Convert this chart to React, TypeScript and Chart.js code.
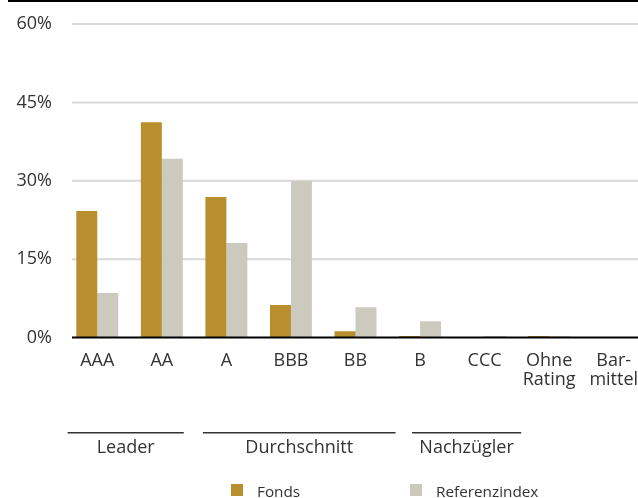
import React, { useEffect, useRef } from "react";
import { Chart, registerables } from "chart.js";

Chart.register(...registerables);

// ---- data ----
const categories: (string | string[])[] = [
  "AAA",
  "AA",
  "A",
  "BBB",
  "BB",
  "B",
  "CCC",
  ["Ohne", "Rating"],
  ["Bar-", "mittel"],
];
const seriesNames = ["Fonds", "Referenzindex"];
const fondsValues = [24.2, 41.2, 26.9, 6.2, 1.2, 0.3, 0, 0.3, 0];
const referenzValues = [8.5, 34.2, 18.1, 30.0, 5.8, 3.1, 0.3, 0.3, 0];
const yTickStep = 15;
const yMax = 60;
const groupLabels = ["Leader", "Durchschnitt", "Nachzügler"];
// group bracket spans, in category-index units
const groupFrom = [-0.46, 1.636, 4.876];
const groupTo = [1.34, 4.62, 6.566];

// ---- style ----
const FONDS_COLOR = "#b88e2f";
const REF_COLOR = "#cccabe";
const GRID_COLOR = "#d9d9d9";
const TEXT_COLOR = "#333333";
const FONT_FAMILY = "'Open Sans', 'Noto Sans', sans-serif";
const AXIS_FONT_SIZE = 18;
const LEGEND_FONT_SIZE = 15.3;

const CANVAS_W = 646;
const CANVAS_H = 498;
const GRID_LEFT = 72;
const GRID_RIGHT = 638;
const GROUP_LINE_Y = 432.7;
const GROUP_TEXT_Y = 453;
const LEGEND_BOX_X = [231, 410];
const LEGEND_BOX_Y = 484;
const LEGEND_BOX = 12;
const LEGEND_TEXT_GAP = 14;
const LEGEND_TEXT_Y = 497;

const decorPlugin = {
  id: "decor",
  beforeDatasetsDraw(chart: any) {
    const { ctx } = chart;
    const y = chart.scales.y;
    ctx.save();
    ctx.strokeStyle = GRID_COLOR;
    ctx.lineWidth = 2;
    y.ticks.forEach((t: any) => {
      if (t.value === 0) return;
      const py = y.getPixelForValue(t.value);
      ctx.beginPath();
      ctx.moveTo(GRID_LEFT, py);
      ctx.lineTo(GRID_RIGHT, py);
      ctx.stroke();
    });
    ctx.restore();
  },
  afterDatasetsDraw(chart: any) {
    const { ctx } = chart;
    const y = chart.scales.y;
    const py = y.getPixelForValue(0);
    ctx.save();
    ctx.strokeStyle = "#000000";
    ctx.lineWidth = 2;
    ctx.beginPath();
    ctx.moveTo(GRID_LEFT, py);
    ctx.lineTo(GRID_RIGHT, py);
    ctx.stroke();
    ctx.restore();
  },
  afterDraw(chart: any) {
    const { ctx } = chart;
    const x = chart.scales.x;
    ctx.save();
    // group brackets
    ctx.strokeStyle = TEXT_COLOR;
    ctx.lineWidth = 1.5;
    ctx.fillStyle = TEXT_COLOR;
    ctx.font = `${AXIS_FONT_SIZE}px ${FONT_FAMILY}`;
    ctx.textAlign = "center";
    ctx.textBaseline = "alphabetic";
    groupLabels.forEach((label, i) => {
      const x1 = x.getPixelForValue(groupFrom[i]);
      const x2 = x.getPixelForValue(groupTo[i]);
      ctx.beginPath();
      ctx.moveTo(x1, GROUP_LINE_Y);
      ctx.lineTo(x2, GROUP_LINE_Y);
      ctx.stroke();
      ctx.fillText(label, (x1 + x2) / 2, GROUP_TEXT_Y);
    });
    // legend
    ctx.font = `${LEGEND_FONT_SIZE}px ${FONT_FAMILY}`;
    ctx.textAlign = "left";
    chart.data.datasets.forEach((ds: any, i: number) => {
      ctx.fillStyle = ds.backgroundColor;
      ctx.fillRect(LEGEND_BOX_X[i], LEGEND_BOX_Y, LEGEND_BOX, LEGEND_BOX);
      ctx.fillStyle = TEXT_COLOR;
      ctx.fillText(ds.label, LEGEND_BOX_X[i] + LEGEND_BOX + LEGEND_TEXT_GAP, LEGEND_TEXT_Y);
    });
    ctx.restore();
  },
};

export default function App() {
  const canvasRef = useRef<HTMLCanvasElement | null>(null);

  useEffect(() => {
    if (!canvasRef.current) return;
    const chart = new Chart(canvasRef.current, {
      type: "bar",
      data: {
        labels: categories as any,
        datasets: [
          {
            label: seriesNames[0],
            data: fondsValues,
            backgroundColor: FONDS_COLOR,
            borderWidth: 0,
            categoryPercentage: 0.65,
            barPercentage: 1.0,
          },
          {
            label: seriesNames[1],
            data: referenzValues,
            backgroundColor: REF_COLOR,
            borderWidth: 0,
            categoryPercentage: 0.65,
            barPercentage: 1.0,
          },
        ],
      },
      options: {
        responsive: false,
        animation: false,
        layout: { padding: { top: 24, left: 0, right: 0, bottom: 0 } },
        plugins: {
          legend: { display: false },
          tooltip: { enabled: false },
          title: { display: false },
        },
        scales: {
          x: {
            grid: { display: false, drawTicks: false },
            border: { display: false },
            ticks: {
              color: TEXT_COLOR,
              font: { family: FONT_FAMILY, size: AXIS_FONT_SIZE, lineHeight: 1.05 },
              padding: 14,
              maxRotation: 0,
              autoSkip: false,
            },
            afterFit(scale: any) {
              scale.height = 160.5;
              scale.paddingLeft = 0;
              scale.paddingRight = 0;
            },
          },
          y: {
            min: 0,
            max: yMax,
            grid: { display: false, drawTicks: false },
            border: { display: false },
            ticks: {
              stepSize: yTickStep,
              color: TEXT_COLOR,
              font: { family: FONT_FAMILY, size: AXIS_FONT_SIZE },
              padding: 13,
              callback: (v: any) => `${v}%`,
            },
            afterFit(scale: any) {
              scale.width = 65;
            },
          },
        },
      },
      plugins: [decorPlugin],
    });
    return () => chart.destroy();
  }, []);

  return (
    <div
      style={{
        position: "absolute",
        left: 0,
        top: 0,
        width: 638,
        height: 498,
        overflow: "hidden",
        background: "#ffffff",
      }}
    >
      <div
        style={{
          position: "absolute",
          left: 8,
          top: 0,
          width: 630,
          height: 2,
          background: "#000000",
        }}
      />
      <canvas
        ref={canvasRef}
        width={CANVAS_W}
        height={CANVAS_H}
        style={{ position: "absolute", left: 0, top: 0, width: CANVAS_W, height: CANVAS_H }}
      />
    </div>
  );
}
